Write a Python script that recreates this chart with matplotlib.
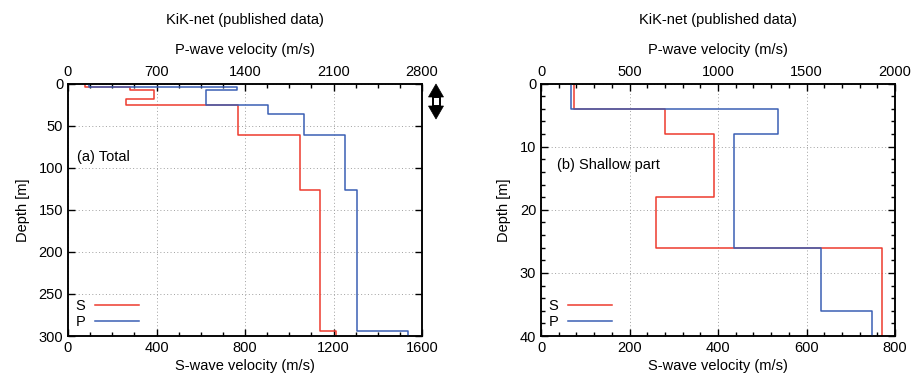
"""KiK-net velocity profiles: total and shallow part."""

import matplotlib.pyplot as plt
import numpy as np
from matplotlib.patches import Polygon, Rectangle
from matplotlib.ticker import MultipleLocator

plt.rcParams["font.family"] = ["Liberation Sans", "DejaVu Sans"]
plt.rcParams["font.size"] = 10.5

# layer boundaries (m) and velocities (m/s)
s_depth = [0, 4, 8, 18, 26, 61, 127, 294, 300]
s_vel = [75, 280, 390, 260, 770, 1050, 1140, 1210]
p_depth = [0, 4, 8, 26, 36, 61, 127, 294, 300]
p_vel = [170, 1340, 1090, 1580, 1870, 2190, 2285, 2690]

RED = "#ee3b2e"
BLUE = "#3a5fb4"
W, H = 915, 380


def staircase(depth, vel):
    x = np.repeat(vel, 2)
    y = np.repeat(depth, 2)[1:-1]
    return x, y


def draw_panel(ax, *, s_max, s_major, s_minor, p_max, p_major, p_minor,
               d_max, d_major, d_minor, right_minor, label, label_pos):
    top = ax.twiny()
    sx, sy = staircase(s_depth, s_vel)
    px, py = staircase(p_depth, p_vel)
    (ls,) = ax.plot(sx, sy, color=RED, lw=1.1, label="S")
    (lp,) = top.plot(px, py, color=BLUE, lw=1.1, label="P")

    ax.set_xlim(0, s_max)
    top.set_xlim(0, p_max)
    ax.set_ylim(d_max, 0)

    ax.xaxis.set_major_locator(MultipleLocator(s_major))
    ax.xaxis.set_minor_locator(MultipleLocator(s_minor))
    top.xaxis.set_major_locator(MultipleLocator(p_major))
    top.xaxis.set_minor_locator(MultipleLocator(p_minor))
    ax.yaxis.set_major_locator(MultipleLocator(d_major))
    if d_minor:
        ax.yaxis.set_minor_locator(MultipleLocator(d_minor))

    ax.tick_params(which="both", direction="in", top=False, right=True,
                   width=1.0)
    ax.tick_params(which="major", length=5)
    ax.tick_params(which="minor", length=3, right=right_minor)
    top.tick_params(which="both", direction="in", width=1.0)
    top.tick_params(which="major", length=5)
    top.tick_params(which="minor", length=3)

    for a in (ax, top):
        for sp in a.spines.values():
            sp.set_linewidth(1.1)

    ax.grid(True, which="major", color="#a0a0a0", linestyle=(0, (1, 2.5)),
            linewidth=0.7)

    ax.set_xlabel("S-wave velocity (m/s)", labelpad=3)
    ax.set_ylabel("Depth [m]", labelpad=6)
    top.set_xlabel("P-wave velocity (m/s)", labelpad=8)
    top.set_title("KiK-net (published data)", pad=13, fontsize=10.5)

    ax.text(label_pos[0], label_pos[1], label, transform=ax.transAxes,
            va="center", ha="left")

    ax.legend([ls, lp], ["S", "P"], loc="lower left",
              bbox_to_anchor=(0.0, 0.0), frameon=False, markerfirst=False,
              handlelength=3.0, handletextpad=0.7, labelspacing=0.1,
              borderaxespad=0.3, borderpad=0.2)
    return top


fig = plt.figure(figsize=(W / 100, H / 100), dpi=100)
ax_a = fig.add_axes([68 / W, 44 / H, 354 / W, 252.5 / H])
ax_b = fig.add_axes([541 / W, 44 / H, 354 / W, 252.5 / H])

draw_panel(ax_a, s_max=1600, s_major=400, s_minor=100, p_max=2800,
           p_major=700, p_minor=175, d_max=300, d_major=50, d_minor=None,
           right_minor=False, label="(a) Total", label_pos=(0.025, 0.71))
draw_panel(ax_b, s_max=800, s_major=200, s_minor=40, p_max=2000,
           p_major=500, p_minor=100, d_max=40, d_major=10, d_minor=2,
           right_minor=True, label="(b) Shallow part",
           label_pos=(0.045, 0.677))


# up/down arrow icon next to the left panel (pixel coords -> figure)
def fpt(x, y):
    return (x / W, 1 - y / H)


fig.add_artist(Polygon([fpt(436, 84), fpt(428.5, 97), fpt(443.5, 97)],
                       closed=True, transform=fig.transFigure,
                       facecolor="black", edgecolor="black", lw=0.5))
fig.add_artist(Polygon([fpt(436, 119), fpt(428.5, 106), fpt(443.5, 106)],
                       closed=True, transform=fig.transFigure,
                       facecolor="black", edgecolor="black", lw=0.5))
x0, y0 = fpt(432.5, 106)
x1, y1 = fpt(439.5, 97)
fig.add_artist(Rectangle((x0, y0), x1 - x0, y1 - y0,
                         transform=fig.transFigure, facecolor="white",
                         edgecolor="black", lw=1.4))

fig.savefig("out.png", dpi=100)
